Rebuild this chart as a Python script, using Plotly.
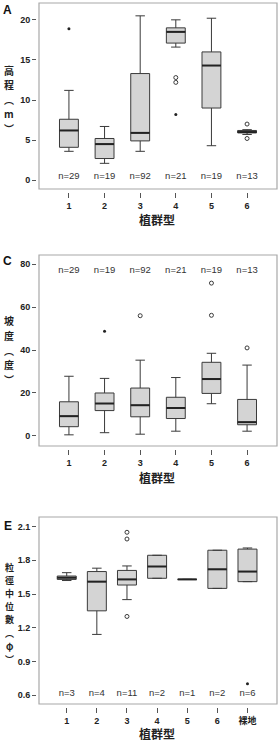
import plotly.graph_objects as go

W, H = 280, 752

# ---------------- Data ----------------
catsA = [1, 2, 3, 4, 5, 6]
A_low = [3.6, 2.1, 3.6, 16.6, 4.3, 5.7]
A_q1 = [4.1, 2.7, 4.9, 17.1, 9.0, 5.9]
A_med = [6.2, 4.5, 5.9, 18.5, 14.3, 6.0]
A_q3 = [7.6, 5.2, 13.3, 19.0, 16.0, 6.2]
A_high = [11.2, 6.7, 20.5, 20.0, 20.2, 6.3]
A_n = ["n=29", "n=19", "n=92", "n=21", "n=19", "n=13"]
A_circ_x = [4, 4, 6, 6]
A_circ_y = [12.8, 12.2, 7.0, 5.2]
A_star_x = [1, 4]
A_star_y = [18.9, 8.2]

catsC = [1, 2, 3, 4, 5, 6]
C_low = [0.5, 1.5, 0.8, 2.2, 15.0, 2.2]
C_q1 = [4.3, 11.8, 8.9, 8.1, 19.8, 5.2]
C_med = [9.2, 15.1, 14.3, 13.0, 26.5, 6.4]
C_q3 = [15.9, 20.0, 22.3, 18.0, 34.3, 17.0]
C_high = [27.8, 26.8, 35.3, 27.2, 38.5, 33.0]
C_n = ["n=29", "n=19", "n=92", "n=21", "n=19", "n=13"]
C_circ_x = [3, 5, 5, 6]
C_circ_y = [56.0, 56.2, 71.2, 41.0]
C_star_x = [2]
C_star_y = [48.8]

catsE = [1, 2, 3, 4, 5, 6, 7]
E_labels = ["1", "2", "3", "4", "5", "6", "裸地"]
E_low = [1.62, 1.14, 1.45, 1.64, 1.63, 1.55, 1.61]
E_q1 = [1.63, 1.35, 1.58, 1.64, 1.63, 1.55, 1.61]
E_med = [1.645, 1.61, 1.63, 1.745, 1.63, 1.72, 1.70]
E_q3 = [1.66, 1.70, 1.71, 1.845, 1.63, 1.89, 1.90]
E_high = [1.69, 1.73, 1.75, 1.845, 1.63, 1.89, 1.91]
E_n = ["n=3", "n=4", "n=11", "n=2", "n=1", "n=2", "n=6"]
E_circ_x = [3, 3, 3]
E_circ_y = [2.05, 1.99, 1.30]
E_star_x = [7]
E_star_y = [0.70]

# ---------------- Styling ----------------
LINE = "#3a3a3a"
FILL = "#d4d4d4"
FRAME = "#a8a8a8"
LAT = "Liberation Sans"
CJK = "Noto Sans CJK TC"

def px_x(p):
    return p / W

def px_y(p):
    return 1 - p / H

panels = [
    dict(cats=catsA, low=A_low, q1=A_q1, med=A_med, q3=A_q3, high=A_high, n=A_n, ny=0.4,
         cx=A_circ_x, cy=A_circ_y, sx=A_star_x, sy=A_star_y, ticks=[str(c) for c in catsA],
         yr=[-1.1, 22.1], xr=[0.16, 6.84], ytick=[0, 5, 10, 15, 20], ytext=["0", "5", "10", "15", "20"],
         top=3, bot=189, xaxis_y=192, bw=0.53, label="A", label_y=9.5,
         ytitle=["高", "程", "︵", "m", "︶"], yt0=70, ytstep=14.6, ytfs=10, xtitle_y=219),
    dict(cats=catsC, low=C_low, q1=C_q1, med=C_med, q3=C_q3, high=C_high, n=C_n, ny=77,
         cx=C_circ_x, cy=C_circ_y, sx=C_star_x, sy=C_star_y, ticks=[str(c) for c in catsC],
         yr=[-4.7, 84.3], xr=[0.16, 6.84], ytick=[0, 20, 40, 60, 80], ytext=["0", "20", "40", "60", "80"],
         top=255, bot=446, xaxis_y=449, bw=0.53, label="C", label_y=261.5,
         ytitle=["坡", "度", "︵", "度", "︶"], yt0=321, ytstep=14.6, ytfs=10, xtitle_y=477),
    dict(cats=catsE, low=E_low, q1=E_q1, med=E_med, q3=E_q3, high=E_high, n=E_n, ny=0.615,
         cx=E_circ_x, cy=E_circ_y, sx=E_star_x, sy=E_star_y, ticks=E_labels,
         yr=[0.52, 2.186], xr=[0.08, 7.98], ytick=[0.6, 0.9, 1.2, 1.5, 1.8, 2.1],
         ytext=["0.6", "0.9", "1.2", "1.5", "1.8", "2.1"],
         top=517, bot=704, xaxis_y=707, bw=0.63, label="E", label_y=526,
         ytitle=["粒", "徑", "中", "位", "數", "︵", "φ", "︶"], yt0=567, ytstep=13.2, ytfs=9,
         xtitle_y=733),
]

fig = go.Figure()
layout = dict(width=W, height=H, margin=dict(l=0, r=0, t=0, b=0),
              paper_bgcolor="white", plot_bgcolor="white", showlegend=False)
shapes = []
annotations = []

for i, p in enumerate(panels, start=1):
    xa = "x" if i == 1 else f"x{i}"
    ya = "y" if i == 1 else f"y{i}"
    xk = "xaxis" if i == 1 else f"xaxis{i}"
    yk = "yaxis" if i == 1 else f"yaxis{i}"

    fig.add_trace(go.Box(
        x=p["cats"], q1=p["q1"], median=p["med"], q3=p["q3"],
        lowerfence=p["low"], upperfence=p["high"],
        width=p["bw"], whiskerwidth=0.5, boxpoints=False,
        fillcolor=FILL, line=dict(color=LINE, width=1),
        xaxis=xa, yaxis=ya, hoverinfo="skip"))

    # thicker median lines
    mx, my = [], []
    for c, m in zip(p["cats"], p["med"]):
        mx += [c - p["bw"] / 2, c + p["bw"] / 2, None]
        my += [m, m, None]
    fig.add_trace(go.Scatter(x=mx, y=my, mode="lines", line=dict(color="#222", width=2),
                             xaxis=xa, yaxis=ya, hoverinfo="skip"))

    fig.add_trace(go.Scatter(x=p["cx"], y=p["cy"], mode="markers",
                             marker=dict(symbol="circle-open", size=4, color=LINE, line=dict(width=1)),
                             xaxis=xa, yaxis=ya, hoverinfo="skip"))
    fig.add_trace(go.Scatter(x=p["sx"], y=p["sy"], mode="markers",
                             marker=dict(symbol="circle", size=3, color="#222"),
                             xaxis=xa, yaxis=ya, hoverinfo="skip"))
    fig.add_trace(go.Scatter(x=p["cats"], y=[p["ny"]] * len(p["cats"]), mode="text",
                             text=p["n"], textposition="middle center",
                             textfont=dict(family=LAT, size=9.5, color="#333"),
                             xaxis=xa, yaxis=ya, hoverinfo="skip"))

    dom_y = [px_y(p["bot"]), px_y(p["top"])]
    layout[xk] = dict(domain=[px_x(39), px_x(277)], range=p["xr"], anchor="free",
                      position=px_y(p["xaxis_y"]),
                      tickvals=p["cats"], ticktext=p["ticks"], ticks="outside", ticklen=5,
                      tickcolor="#555", showline=False, showgrid=False, zeroline=False,
                      tickfont=dict(family=f"{LAT}, {CJK}", size=9, color="#222", weight="bold"),
                      fixedrange=True)
    layout[yk] = dict(domain=dom_y, range=p["yr"], anchor="free", position=px_x(36),
                      tickvals=p["ytick"], ticktext=p["ytext"], ticks="outside", ticklen=4,
                      tickcolor="#555", showline=False, showgrid=False, zeroline=False,
                      tickfont=dict(family=LAT, size=9, color="#222", weight="bold"),
                      fixedrange=True)

    shapes.append(dict(type="rect", xref="paper", yref="paper",
                       x0=px_x(39), x1=px_x(277), y0=dom_y[0], y1=dom_y[1],
                       line=dict(color=FRAME, width=1.2), fillcolor="rgba(0,0,0,0)"))

    annotations.append(dict(text=p["label"], xref="paper", yref="paper", x=px_x(7.5), y=px_y(p["label_y"]),
                            showarrow=False, xanchor="center", yanchor="middle",
                            font=dict(family=LAT, size=12, color="#111", weight="bold")))
    for k, ch in enumerate(p["ytitle"]):
        annotations.append(dict(text=ch, xref="paper", yref="paper", x=px_x(9),
                                y=px_y(p["yt0"] + k * p["ytstep"]), borderpad=0,
                                showarrow=False, xanchor="center", yanchor="middle",
                                font=dict(family=CJK, size=p["ytfs"], color="#222", weight="bold")))
    annotations.append(dict(text="植群型", xref="paper", yref="paper", x=px_x(157), y=px_y(p["xtitle_y"]),
                            showarrow=False, xanchor="center", yanchor="middle",
                            font=dict(family=CJK, size=12, color="#222", weight="bold")))

layout["shapes"] = shapes
layout["annotations"] = annotations
fig.update_layout(**layout)

fig.write_html("out.html")
